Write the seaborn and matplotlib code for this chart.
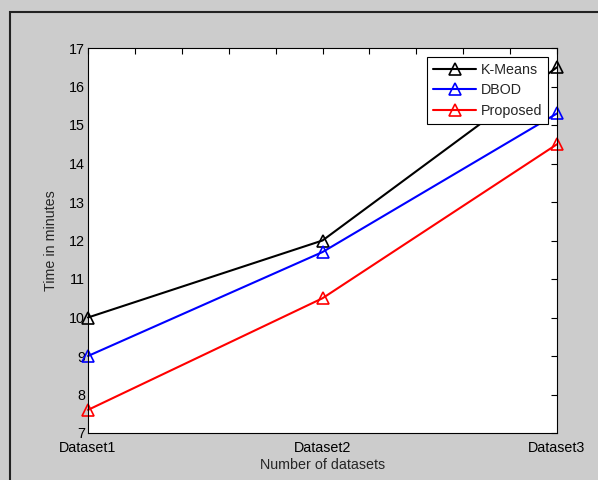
import matplotlib
matplotlib.use("Agg")
import matplotlib.pyplot as plt
import seaborn as sns
import pandas as pd
import numpy as np
from matplotlib.patches import Rectangle

categories = ["Dataset1", "Dataset2", "Dataset3"]
kmeans = [10.0, 12.0, 16.5]
dbod = [9.0, 11.7, 15.3]
proposed = [7.6, 10.5, 14.5]
series_names = ["K-Means", "DBOD", "Proposed"]
colors = ["black", "blue", "red"]

rows = []
for name, vals in zip(series_names, [kmeans, dbod, proposed]):
    for i, v in enumerate(vals):
        rows.append({"x": i, "Time": v, "Method": name})
df = pd.DataFrame(rows)

sns.set_style("white")
plt.rcParams['font.family'] = ['Liberation Sans', 'DejaVu Sans']
FS = 10.3

fig = plt.figure(figsize=(5.98, 4.80), dpi=100, facecolor="#cccccc")
ax = fig.add_axes([88/598, 1-433/480, (557-88)/598, (433-48)/480])
ax.set_facecolor("white")

sns.lineplot(data=df, x="x", y="Time", hue="Method", palette=colors,
             hue_order=series_names, marker="^", markersize=8,
             markerfacecolor="none", markeredgewidth=1.2, linewidth=1.5,
             ax=ax, clip_on=False)
for line, c in zip(ax.get_lines(), colors):
    line.set_markeredgecolor(c)

ax.set_xlim(0, 2)
ax.set_ylim(7, 17)
ticks = np.arange(0, 2.01, 0.2)
ax.set_xticks(ticks)
ax.set_xticklabels([categories[int(round(t))] if abs(t - round(t)) < 1e-6 else "" for t in ticks])
ax.set_yticks(range(7, 18))
ax.tick_params(direction="in", top=True, right=True, length=4, width=0.8,
               labelsize=FS, colors="black", pad=2)
ax.tick_params(axis="x", pad=5.5)
for s in ax.spines.values():
    s.set_visible(True)
    s.set_color("black")
    s.set_linewidth(0.8)
ax.set_xlabel("Number of datasets", fontsize=FS, labelpad=2.5)
ax.set_ylabel("Time in minutes", fontsize=FS, labelpad=8)

leg = ax.legend(loc="upper right", fontsize=FS, frameon=True, fancybox=False,
                edgecolor="black", framealpha=1, handlelength=3.0,
                handletextpad=0.3, borderaxespad=0.6, labelspacing=0.45,
                borderpad=0.45)
leg.get_frame().set_linewidth(0.8)
for h, c in zip(leg.legend_handles, colors):
    h.set_markerfacecolor("none")
    h.set_markeredgecolor(c)

fig.patches.append(Rectangle((10/598, -0.1), 1.2, 1 - 12/480 + 0.1,
                             transform=fig.transFigure, fill=False,
                             edgecolor="#222222", linewidth=1.5))

fig.savefig("out.png", dpi=100, facecolor=fig.get_facecolor())
